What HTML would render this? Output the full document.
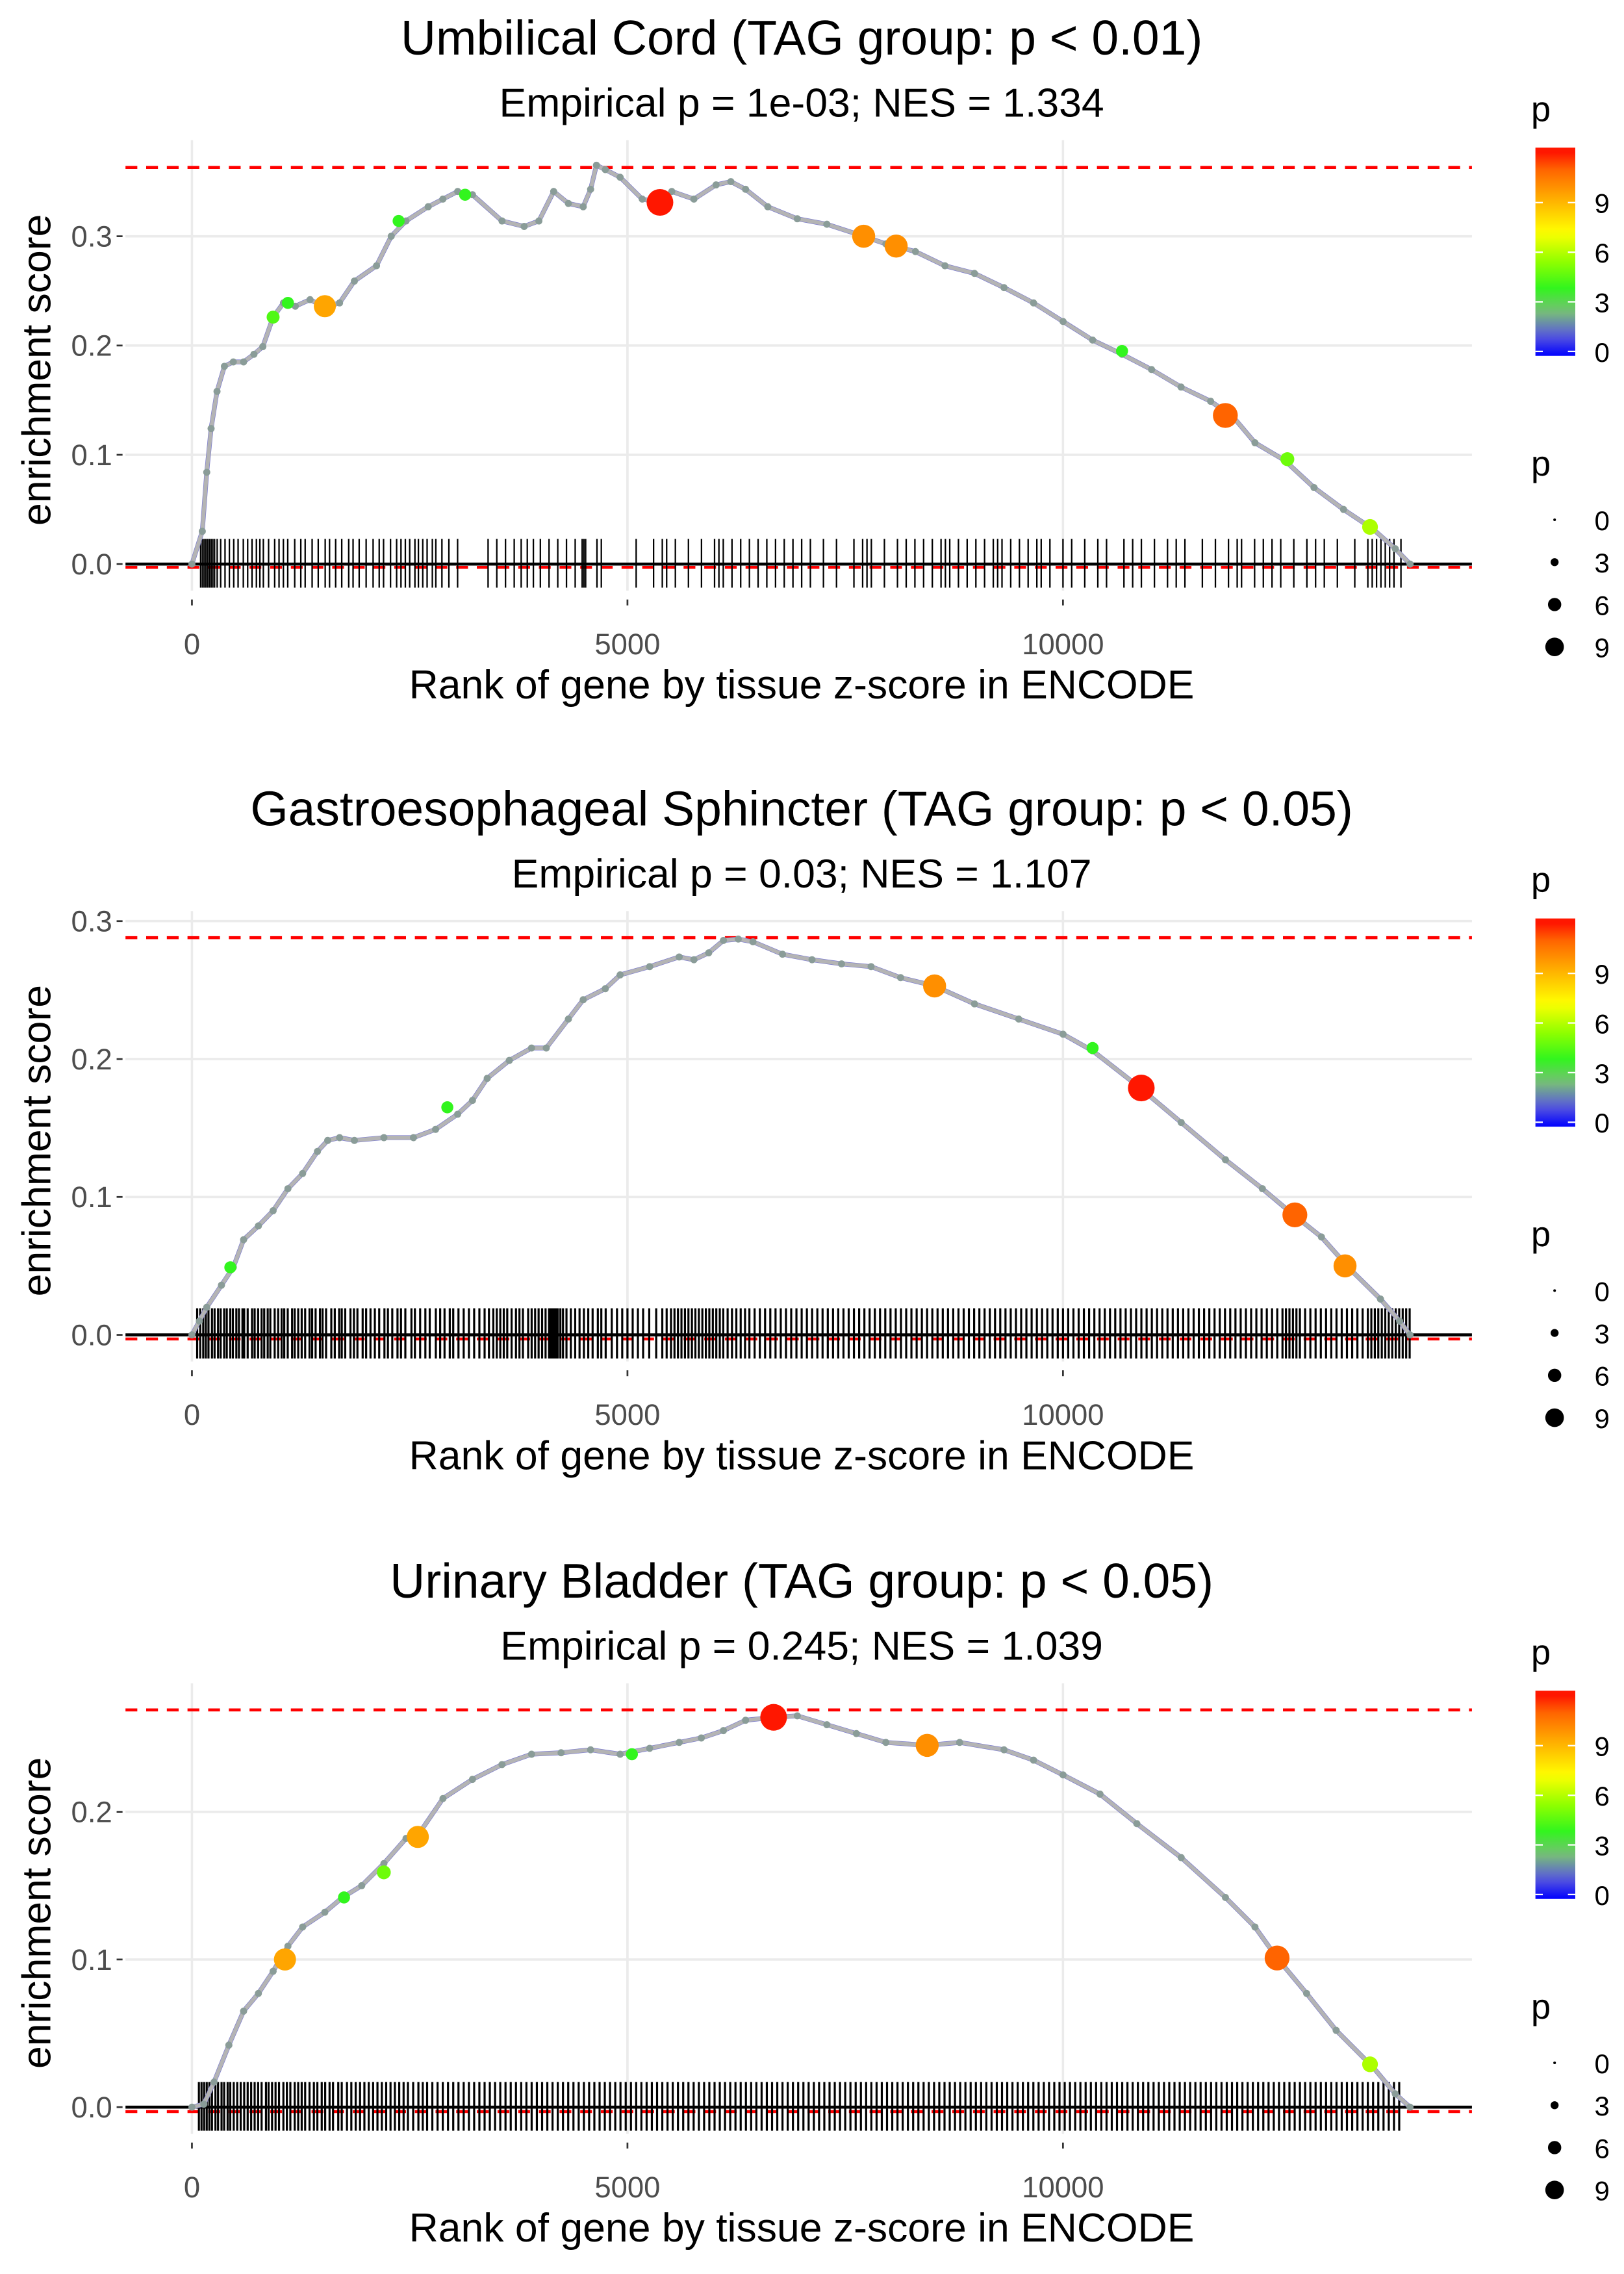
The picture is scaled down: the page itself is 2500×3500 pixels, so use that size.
<!DOCTYPE html>
<html><head><meta charset="utf-8"><style>
html,body{margin:0;padding:0;background:#fff}
svg{display:block}
text{font-family:"Liberation Sans",sans-serif}
</style></head><body>
<svg id="chart" xmlns="http://www.w3.org/2000/svg" width="2500" height="3500" viewBox="0 0 1100 1540">
<rect width="1100" height="1540" fill="#fff"/>
</svg>
<script>
// ---------- DATA ----------
const titles = ["Umbilical Cord (TAG group: p < 0.01)","Gastroesophageal Sphincter (TAG group: p < 0.05)","Urinary Bladder (TAG group: p < 0.05)"];
const subtitles = ["Empirical p = 1e-03; NES = 1.334","Empirical p = 0.03; NES = 1.107","Empirical p = 0.245; NES = 1.039"];
const xTicks = [0,5000,10000];
const yTicks1 = [0,0.1,0.2,0.3];
const yTicks2 = [0,0.1,0.2,0.3];
const yTicks3 = [0,0.1,0.2];
const maxES = [0.363,0.288,0.269];
const minES = [-0.003,-0.003,-0.003];
const legendTicks = [0,3,6,9];

const rank1 = [0,119,170,220,288,373,475,593,712,814,932,1051,1187,1356,1526,1695,1865,2119,2288,2458,2712,2881,3051,3221,3560,3814,3983,4153,4322,4492,4577,4644,4746,4916,5170,5373,5509,5763,6017,6187,6356,6611,6950,7289,7712,7967,8306,8645,8984,9323,9662,10001,10340,10678,11017,11356,11695,11950,12204,12543,12882,13221,13560,13815,13985];
const es1 = [0,0.030,0.084,0.124,0.158,0.181,0.185,0.185,0.192,0.199,0.226,0.239,0.236,0.242,0.235,0.239,0.259,0.273,0.300,0.314,0.327,0.334,0.341,0.338,0.314,0.309,0.314,0.341,0.330,0.327,0.343,0.365,0.361,0.354,0.334,0.331,0.341,0.334,0.347,0.350,0.343,0.327,0.316,0.311,0.300,0.293,0.286,0.273,0.266,0.253,0.239,0.222,0.205,0.192,0.178,0.162,0.149,0.135,0.111,0.095,0.070,0.050,0.032,0.014,0];
const hlRank1 = [5373,1526,7712,8085,11864,1102,2373,3136,10678,12576,13525,932];
const hlES1 = [0.331,0.236,0.300,0.291,0.136,0.239,0.314,0.338,0.195,0.096,0.034,0.226];
const hlP1 = [12,9.5,10,10,11,4,4,4,4,5,6,4.5];
const rug1 = [100,120,140,160,180,200,220,240,260,290,330,380,430,480,530,590,640,690,740,780,820,880,950,1000,1050,1100,1180,1250,1300,1380,1450,1530,1580,1650,1720,1800,1850,1920,2000,2080,2150,2200,2280,2350,2400,2450,2500,2560,2600,2650,2700,2760,2800,2870,2950,3050,3400,3500,3600,3700,3780,3850,3920,4000,4100,4200,4300,4400,4480,4500,4520,4650,4700,5100,5300,5400,5450,5550,5700,5850,6000,6050,6100,6200,6300,6400,6500,6600,6700,6800,6900,7000,7100,7250,7400,7600,7700,7750,7800,7950,8100,8200,8300,8400,8500,8600,8650,8700,8800,8900,9000,9100,9200,9250,9300,9400,9500,9600,9700,9750,9850,10000,10100,10250,10400,10500,10700,10800,10900,11050,11200,11300,11400,11600,11750,11900,12000,12050,12200,12300,12400,12500,12650,12800,12900,13000,13150,13350,13500,13550,13600,13650,13700,13750,13800,13880];

const rank2 = [0,85,170,339,475,593,763,932,1102,1271,1441,1559,1695,1865,2204,2543,2797,3051,3221,3390,3644,3899,4068,4322,4492,4746,4916,5255,5594,5763,5933,6102,6272,6441,6780,7119,7458,7797,8136,8526,8984,9492,10001,10340,10848,11357,11865,12289,12628,12967,13306,13645,13865,13984];
const es2 = [0,0.010,0.020,0.036,0.049,0.069,0.079,0.090,0.106,0.117,0.133,0.141,0.143,0.141,0.143,0.143,0.149,0.160,0.170,0.186,0.199,0.208,0.208,0.229,0.243,0.251,0.261,0.267,0.274,0.272,0.277,0.286,0.287,0.285,0.276,0.272,0.269,0.267,0.259,0.253,0.240,0.229,0.218,0.206,0.181,0.154,0.127,0.106,0.088,0.071,0.047,0.026,0.010,0];
const hlRank2 = [8526,10899,12662,13238,2932,441,10340];
const hlES2 = [0.253,0.179,0.087,0.050,0.165,0.049,0.208];
const hlP2 = [10,12,11,10,4,4,4];
const rug2 = [60,95,130,160,190,230,260,300,330,370,400,440,470,510,540,580,600,640,690,720,760,800,830,870,900,950,990,1030,1060,1100,1150,1180,1220,1260,1300,1350,1380,1420,1470,1500,1540,1600,1640,1690,1720,1760,1820,1860,1900,1960,2000,2050,2100,2150,2210,2250,2300,2360,2400,2450,2520,2560,2620,2680,2730,2800,2850,2900,2960,3000,3060,3120,3180,3240,3300,3360,3410,3460,3500,3540,3580,3620,3670,3720,3760,3800,3860,3900,3940,3980,4020,4060,4100,4120,4140,4160,4180,4200,4230,4260,4300,4350,4400,4450,4500,4550,4600,4660,4700,4750,4820,4880,4940,5000,5060,5120,5180,5250,5330,5400,5450,5500,5540,5580,5620,5660,5700,5740,5780,5820,5860,5900,5940,5980,6020,6060,6100,6150,6200,6250,6300,6350,6400,6460,6520,6580,6640,6700,6760,6820,6880,6940,7000,7060,7120,7180,7240,7300,7360,7420,7480,7540,7600,7660,7720,7780,7840,7900,7960,8020,8080,8140,8200,8260,8320,8380,8440,8500,8560,8620,8680,8740,8800,8860,8920,8980,9040,9100,9160,9220,9280,9340,9400,9460,9520,9580,9640,9700,9760,9820,9880,9940,10000,10060,10120,10180,10240,10300,10360,10420,10480,10540,10600,10660,10720,10780,10840,10900,10960,11020,11080,11140,11200,11260,11320,11380,11440,11500,11560,11620,11680,11740,11800,11860,11920,11980,12040,12100,12160,12220,12280,12340,12400,12460,12520,12560,12600,12640,12680,12720,12780,12840,12900,12960,13020,13080,13140,13200,13260,13320,13380,13440,13500,13540,13580,13620,13660,13700,13740,13780,13820,13860,13900,13940,13980];

const rank3 = [0,136,254,424,593,763,932,1102,1271,1526,1729,1949,2204,2458,2627,2882,3221,3560,3899,4238,4577,4916,5255,5594,5848,6102,6356,6678,6950,7289,7628,7967,8441,8814,9323,9662,10001,10425,10848,11357,11865,12204,12458,12797,13136,13560,13815,13984];
const es3 = [0,0.002,0.017,0.042,0.065,0.077,0.092,0.109,0.122,0.132,0.142,0.150,0.165,0.182,0.187,0.209,0.222,0.232,0.239,0.240,0.242,0.239,0.243,0.247,0.250,0.255,0.262,0.264,0.265,0.259,0.253,0.247,0.245,0.247,0.242,0.235,0.225,0.212,0.192,0.169,0.142,0.122,0.101,0.077,0.052,0.027,0.009,0];
const hlRank3 = [6678,8441,12458,1068,2593,1746,2203,5051,13525];
const hlES3 = [0.264,0.245,0.101,0.100,0.183,0.142,0.159,0.239,0.029];
const hlP3 = [12,10,11,9.5,9.5,4,5,4,6];
const rug3 = [80,110,140,170,200,230,270,300,340,370,410,440,480,520,560,600,640,680,720,760,800,850,880,920,960,1000,1050,1090,1130,1180,1220,1260,1300,1350,1400,1440,1490,1530,1580,1620,1680,1720,1780,1830,1880,1930,1980,2030,2080,2130,2180,2230,2280,2330,2380,2430,2480,2540,2600,2650,2700,2760,2820,2880,2940,3000,3060,3120,3180,3240,3300,3360,3420,3480,3540,3600,3660,3720,3780,3840,3900,3960,4020,4080,4140,4200,4260,4320,4380,4440,4500,4560,4620,4680,4740,4800,4860,4920,4980,5040,5100,5160,5220,5280,5340,5400,5460,5520,5580,5640,5700,5760,5820,5880,5940,6000,6060,6120,6180,6240,6300,6360,6420,6480,6540,6600,6660,6720,6780,6840,6900,6960,7020,7080,7140,7200,7260,7320,7380,7440,7500,7560,7620,7680,7740,7800,7860,7920,7980,8040,8100,8160,8220,8280,8340,8400,8460,8520,8580,8640,8700,8760,8820,8880,8940,9000,9060,9120,9180,9240,9300,9360,9420,9480,9540,9600,9660,9720,9780,9840,9900,9960,10020,10080,10140,10200,10260,10320,10380,10440,10500,10560,10620,10680,10740,10800,10860,10920,10980,11040,11100,11160,11220,11280,11340,11400,11460,11520,11580,11640,11700,11760,11820,11880,11940,12000,12060,12120,12180,12240,12300,12360,12420,12480,12540,12600,12660,12720,12780,12840,12900,12960,13020,13080,13140,13200,13260,13320,13380,13440,13500,13560,13620,13680,13740,13800,13860];

// ---------- DRAW ----------
const NS = "http://www.w3.org/2000/svg";
const svg = document.getElementById('chart');
function mk(tag, attrs, parent){const e=document.createElementNS(NS,tag);for(const k in attrs)e.setAttribute(k,attrs[k]);(parent||svg).appendChild(e);return e;}
function xScale(r){return 130 + r*0.059;}
const stops=[[0,[0,0,255]],[1.2,[90,90,220]],[2.6,[120,190,120]],[4,[50,245,30]],[5.5,[140,255,0]],[7.3,[255,255,0]],[9.5,[255,165,0]],[11,[255,100,0]],[12.3,[255,0,0]]];
function pColor(p){for(let i=1;i<stops.length;i++){if(p<=stops[i][0]){const a=stops[i-1],b=stops[i];const t=(p-a[0])/(b[0]-a[0]);const c=a[1].map((v,j)=>Math.round(v+(b[1][j]-v)*t));return `rgb(${c})`;}}return 'rgb(255,0,0)';}
function pRad(p){return 1.6+p*0.62;}

const panels=[
 {rank:rank1,es:es1,hr:hlRank1,he:hlES1,hp:hlP1,rug:rug1,yt:yTicks1,y0:382,per:740,top:95,bot:400,rugT:365,rugB:398,off:0,rw:1.0},
 {rank:rank2,es:es2,hr:hlRank2,he:hlES2,hp:hlP2,rug:rug2,yt:yTicks2,y0:904,per:934,top:617,bot:922,rugT:886,rugB:920,off:522,rw:1.4},
 {rank:rank3,es:es3,hr:hlRank3,he:hlES3,hp:hlP3,rug:rug3,yt:yTicks3,y0:1427,per:1000,top:1140,bot:1445,rugT:1410,rugB:1443,off:1045,rw:1.4}
];

panels.forEach((P,i)=>{
  const yS=v=>P.y0 - v*P.per;
  const g=mk('g',{});
  
  
  const t=mk('text',{x:543,y:37+P.off,'font-size':33,'text-anchor':'middle',fill:'#000'},g);t.textContent=titles[i];
  
  const s=mk('text',{x:543,y:79+P.off,'font-size':27.5,'text-anchor':'middle',fill:'#000'},g);s.textContent=subtitles[i];
  
  P.yt.forEach(v=>{const l=mk('line',{x1:85,x2:997,y1:yS(v),y2:yS(v),stroke:'#ebebeb','stroke-width':1.6},g);
    
    const tx=mk('text',{x:76,y:yS(v)+7,'font-size':20,'text-anchor':'end',fill:'#4d4d4d'},g);tx.textContent=v.toFixed(1);
    
    mk('line',{x1:79,x2:83,y1:yS(v),y2:yS(v),stroke:'#333','stroke-width':1.2},g);});
  xTicks.forEach(v=>{const l=mk('line',{x1:xScale(v),x2:xScale(v),y1:P.top,y2:P.bot,stroke:'#ebebeb','stroke-width':1.6},g);
    
    mk('line',{x1:xScale(v),x2:xScale(v),y1:P.bot+6,y2:P.bot+10,stroke:'#333','stroke-width':1.2},g);
    const tx=mk('text',{x:xScale(v),y:P.y0+61,'font-size':20,'text-anchor':'middle',fill:'#4d4d4d'},g);tx.textContent=v;
    });
  const xt=mk('text',{x:543,y:P.y0+91,'font-size':27.5,'text-anchor':'middle',fill:'#000'},g);xt.textContent='Rank of gene by tissue z-score in ENCODE';
  
  const yc=(P.top+P.bot)/2+3;
  const yt=mk('text',{x:0,y:0,'font-size':27.5,'text-anchor':'middle',fill:'#000',transform:`translate(34,${yc}) rotate(-90)`},g);yt.textContent='enrichment score';
  
  [maxES[i],minES[i]].forEach(v=>{const l=mk('line',{x1:85,x2:997,y1:yS(v),y2:yS(v),stroke:'#ff0000','stroke-width':2,'stroke-dasharray':'8,6'},g);
    });
  let d='';P.rug.forEach(r=>{d+=`M${xScale(r).toFixed(2)},${P.rugT}V${P.rugB}`;});
  const rug=mk('path',{d:d,stroke:'#000','stroke-width':P.rw,fill:'none'},g);
  
  const zl=mk('line',{x1:85,x2:997,y1:yS(0),y2:yS(0),stroke:'#000','stroke-width':2},g);
  
  const pts=P.rank.map((r,k)=>`${xScale(r).toFixed(2)},${yS(P.es[k]).toFixed(2)}`).join(' ');
  mk('polyline',{points:pts,fill:'none',stroke:'#7a7ad0','stroke-width':3.2},g);
  const cl=mk('polyline',{points:pts,fill:'none',stroke:'#b4b4b4','stroke-width':2.6},g);
  
  P.rank.forEach((r,k)=>{const c=mk('circle',{cx:xScale(r),cy:yS(P.es[k]),r:2.4,fill:'#8a9c98'},g);
    });
  P.hr.forEach((r,k)=>{const c=mk('circle',{cx:xScale(r),cy:yS(P.he[k]),r:pRad(P.hp[k]),fill:pColor(P.hp[k])},g);
    });
  const lg=mk('g',{},g);
  
  const p1=mk('text',{x:1037,y:82+P.off,'font-size':24,fill:'#000'},lg);p1.textContent='p';
  const gid='grad'+i;const gr=mk('linearGradient',{id:gid,x1:0,y1:1,x2:0,y2:0},lg);
  for(let q=0;q<=12.3;q+=0.5){mk('stop',{offset:(q/12.3).toFixed(3),'stop-color':pColor(q)},gr);}
  const cb=mk('rect',{x:1040,y:100+P.off,width:27,height:141,fill:`url(#${gid})`},lg);
  
  legendTicks.forEach(v=>{const y=238+P.off-v*11.2;
    mk('line',{x1:1040,x2:1045,y1:y,y2:y,stroke:'#fff','stroke-width':1},lg);
    mk('line',{x1:1062,x2:1067,y1:y,y2:y,stroke:'#fff','stroke-width':1},lg);
    const tx=mk('text',{x:1080,y:y+7,'font-size':18.5,fill:'#000'},lg);tx.textContent=v;
    });
  const p2=mk('text',{x:1037,y:322+P.off,'font-size':24,fill:'#000'},lg);p2.textContent='p';
  legendTicks.forEach((v,k)=>{const y=352+P.off+k*28.7;
    const c=mk('circle',{cx:1053,cy:y,r:0.9+v*0.6,fill:'#000'},lg);
    
    const tx=mk('text',{x:1080,y:y+7,'font-size':18.5,fill:'#000'},lg);tx.textContent=v;
    });
});
</script>
</body></html>
